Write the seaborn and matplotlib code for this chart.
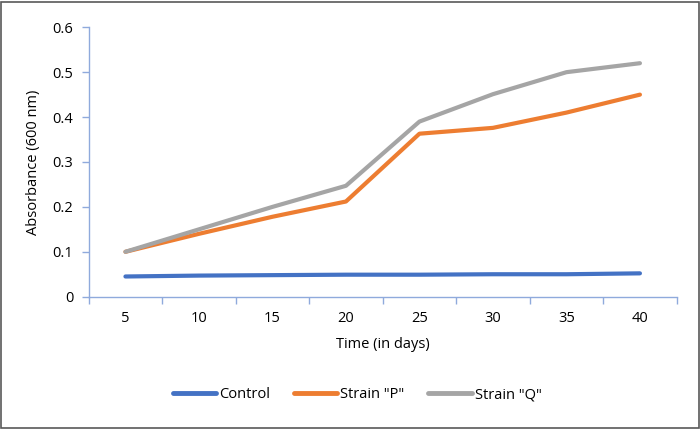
import seaborn as sns
import matplotlib.pyplot as plt
import matplotlib.patches as patches
import pandas as pd

# values
days = [5, 10, 15, 20, 25, 30, 35, 40]
control = [0.045, 0.047, 0.048, 0.049, 0.049, 0.050, 0.050, 0.052]
strain_p = [0.100, 0.140, 0.178, 0.212, 0.363, 0.376, 0.410, 0.450]
strain_q = [0.100, 0.150, 0.200, 0.247, 0.390, 0.451, 0.500, 0.520]
series_names = ['Control', 'Strain "P"', 'Strain "Q"']
colors = ['#4472C4', '#ED7D31', '#A5A5A5']

df = pd.DataFrame({'Time': days * 3,
                   'Absorbance': control + strain_p + strain_q,
                   'Series': [s for s in series_names for _ in days]})

sns.set_style('white')
plt.rcParams['font.family'] = ['Open Sans', 'DejaVu Sans']
plt.rcParams['text.color'] = 'black'
plt.rcParams['axes.labelcolor'] = 'black'
plt.rcParams['xtick.labelcolor'] = 'black'
plt.rcParams['ytick.labelcolor'] = 'black'

fig = plt.figure(figsize=(7, 4.29), dpi=100)
ax = fig.add_axes([0.1267, 0.3084, 0.84, 0.628])

sns.lineplot(data=df, x='Time', y='Absorbance', hue='Series',
             palette=colors, linewidth=3, legend=False, ax=ax,
             solid_capstyle='round')

# Excel-like category axis: ticks between categories, labels at centers
ax.set_xlim(2.5, 42.5)
ax.set_xticks([2.5 + 5 * i for i in range(9)])
ax.set_xticklabels([])
ax.set_xticks(days, minor=True)
ax.set_xticklabels([str(d) for d in days], minor=True, fontsize=10.5)
ax.tick_params(axis='x', which='major', direction='out', length=5,
               color='#8FAADC', width=1, bottom=True)
ax.tick_params(axis='x', which='minor', length=0, pad=10)

ax.set_ylim(0, 0.6)
ax.set_yticks([0, 0.1, 0.2, 0.3, 0.4, 0.5, 0.6])
ax.set_yticklabels(['0', '0.1', '0.2', '0.3', '0.4', '0.5', '0.6'], fontsize=10.5)
ax.tick_params(axis='y', direction='out', length=5, color='#8FAADC',
               width=1, left=True, pad=6)

for side in ['top', 'right']:
    ax.spines[side].set_visible(False)
for side in ['left', 'bottom']:
    ax.spines[side].set_color('#8FAADC')
    ax.spines[side].set_linewidth(1)

ax.set_xlabel('Time (in days)', fontsize=10.5, labelpad=8)
ax.set_ylabel('Absorbance (600 nm)', fontsize=10.5, labelpad=8)

handles = [plt.Line2D([], [], color=c, linewidth=3.5) for c in colors]
fig.legend(handles, series_names, loc='center', ncol=3,
           bbox_to_anchor=(0.51, 1 - 395 / 429), frameon=False,
           fontsize=10.5, handlelength=3, handletextpad=0.2,
           columnspacing=1.6)

# thin border round the whole chart
fig.patches.append(patches.Rectangle((0.002, 0.003), 0.996, 0.992,
                                     transform=fig.transFigure, fill=False,
                                     edgecolor='#595959', linewidth=1.2))

fig.savefig('out.png', dpi=100)
